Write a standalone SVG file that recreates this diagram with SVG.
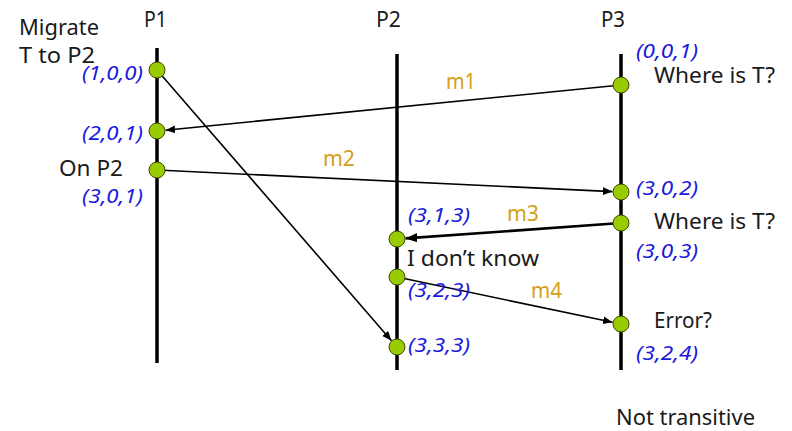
<svg xmlns="http://www.w3.org/2000/svg" width="792" height="431" viewBox="0 0 792 431">
<style>
.lbl{font-family:"Noto Sans","Open Sans","Liberation Sans",sans-serif;font-size:22px;fill:#1a1a1a}
.vc{font-family:"Noto Sans","Open Sans","Liberation Sans",sans-serif;font-size:20px;font-style:italic;fill:#1a1adc}
.msg{font-family:"Noto Sans","Open Sans","Liberation Sans",sans-serif;font-size:21px;fill:#d4a017}
.proc{stroke:#000;stroke-width:3.5}
.ev{fill:#99cc00;stroke:#3d4d00;stroke-width:1}
.arr{stroke:#000;stroke-width:1.6;fill:none;marker-end:url(#ah)}
</style>
<defs>
<marker id="ah" viewBox="0 0 10 10" refX="10" refY="5" markerWidth="6" markerHeight="6" markerUnits="strokeWidth" orient="auto">
<path d="M0,1 L10,5 L0,9 z" fill="#000"/>
</marker>
<marker id="ah2" viewBox="0 0 10 10" refX="10" refY="5" markerWidth="4.5" markerHeight="4.5" markerUnits="strokeWidth" orient="auto">
<path d="M0,1 L10,5 L0,9 z" fill="#000"/>
</marker>
</defs>
<rect width="792" height="431" fill="#fff"/>

<g id="processes">
<line class="proc" x1="157" y1="48" x2="157" y2="363"/>
<line class="proc" x1="397" y1="54" x2="397" y2="370"/>
<line class="proc" x1="621" y1="54" x2="621" y2="370"/>
<text class="lbl" x="144" y="27" font-size="21" textLength="23" lengthAdjust="spacingAndGlyphs">P1</text>
<text class="lbl" x="376" y="27" font-size="21" textLength="25" lengthAdjust="spacingAndGlyphs">P2</text>
<text class="lbl" x="601" y="27" font-size="21" textLength="24" lengthAdjust="spacingAndGlyphs">P3</text>
</g>

<g id="connectors">
<line class="arr" x1="621" y1="85" x2="165.5" y2="130.2"/>
<text class="msg" x="446" y="89" textLength="30" lengthAdjust="spacingAndGlyphs">m1</text>
<line class="arr" x1="157" y1="170" x2="612.5" y2="191.6"/>
<text class="msg" x="323" y="166" textLength="32" lengthAdjust="spacingAndGlyphs">m2</text>
<line class="arr" x1="621" y1="223" x2="405.5" y2="238.4" style="stroke-width:2.6;marker-end:url(#ah2)"/>
<text class="msg" x="507" y="221" textLength="32" lengthAdjust="spacingAndGlyphs">m3</text>
<line class="arr" x1="397" y1="277" x2="612.6" y2="322.3"/>
<text class="msg" x="531" y="298" textLength="31" lengthAdjust="spacingAndGlyphs">m4</text>
<line class="arr" x1="157" y1="70" x2="391.5" y2="340.7"/>
</g>

<g id="p1-e1"><circle class="ev" cx="157" cy="70" r="8"/><text class="vc" x="82" y="80" textLength="61" lengthAdjust="spacingAndGlyphs">(1,0,0)</text>
<text class="lbl" x="19" y="35" textLength="80" lengthAdjust="spacingAndGlyphs">Migrate</text><text class="lbl" x="19" y="63" textLength="76" lengthAdjust="spacingAndGlyphs">T to P2</text></g>
<g id="p1-e2"><circle class="ev" cx="157" cy="131" r="8"/><text class="vc" x="82" y="140" textLength="61" lengthAdjust="spacingAndGlyphs">(2,0,1)</text></g>
<g id="p1-e3"><circle class="ev" cx="157" cy="170" r="8"/><text class="lbl" x="59" y="176" textLength="64" lengthAdjust="spacingAndGlyphs">On P2</text><text class="vc" x="82" y="203" textLength="61" lengthAdjust="spacingAndGlyphs">(3,0,1)</text></g>

<g id="p2-e1"><circle class="ev" cx="397" cy="239" r="8"/><text class="vc" x="408" y="222" textLength="62" lengthAdjust="spacingAndGlyphs">(3,1,3)</text><text class="lbl" x="407" y="266" textLength="132" lengthAdjust="spacingAndGlyphs">I don’t know</text></g>
<g id="p2-e2"><circle class="ev" cx="397" cy="277" r="8"/><text class="vc" x="408" y="297" textLength="62" lengthAdjust="spacingAndGlyphs">(3,2,3)</text></g>
<g id="p2-e3"><circle class="ev" cx="397" cy="347" r="8"/><text class="vc" x="408" y="352" textLength="62" lengthAdjust="spacingAndGlyphs">(3,3,3)</text></g>

<g id="p3-e1"><circle class="ev" cx="621" cy="85" r="8"/><text class="vc" x="636" y="58" textLength="62" lengthAdjust="spacingAndGlyphs">(0,0,1)</text><text class="lbl" x="654" y="83" textLength="121" lengthAdjust="spacingAndGlyphs">Where is T?</text></g>
<g id="p3-e2"><circle class="ev" cx="621" cy="192" r="8"/><text class="vc" x="636" y="195" textLength="62" lengthAdjust="spacingAndGlyphs">(3,0,2)</text></g>
<g id="p3-e3"><circle class="ev" cx="621" cy="223" r="8"/><text class="lbl" x="654" y="229" textLength="121" lengthAdjust="spacingAndGlyphs">Where is T?</text><text class="vc" x="636" y="258" textLength="62" lengthAdjust="spacingAndGlyphs">(3,0,3)</text></g>
<g id="p3-e4"><circle class="ev" cx="621" cy="324" r="8"/><text class="lbl" x="654" y="328" textLength="58" lengthAdjust="spacingAndGlyphs">Error?</text><text class="vc" x="636" y="360" textLength="62" lengthAdjust="spacingAndGlyphs">(3,2,4)</text></g>

<text class="lbl" x="616" y="425" textLength="139" lengthAdjust="spacingAndGlyphs">Not transitive</text>
</svg>
